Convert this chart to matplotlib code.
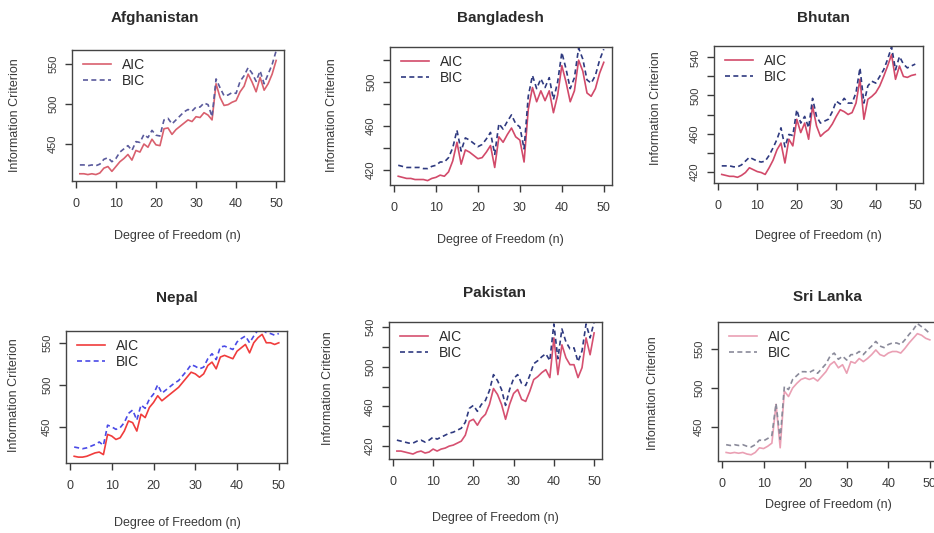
import matplotlib
matplotlib.use("Agg")
import matplotlib.pyplot as plt
import numpy as np

plt.rcParams['font.family'] = ['Liberation Sans', 'DejaVu Sans']

W, H = 934, 533

# degree of freedom n = 1..50
dof = list(range(1, 51))

afg_aic = [413, 413, 412, 413, 412, 414, 420, 422, 416, 422, 428, 432, 437, 430, 442, 440, 450, 446, 456, 449,
           448, 469, 470, 462, 468, 472, 476, 480, 478, 484, 483, 489, 486, 480, 525, 508, 498, 499, 502, 504,
           515, 522, 537, 527, 515, 533, 517, 525, 537, 554]
afg_bic = [424, 424, 423, 424, 423, 425, 431, 433, 428, 432, 440, 444, 448, 442, 453, 452, 462, 458, 467, 461,
           460, 480, 482, 475, 480, 485, 490, 493, 491, 496, 496, 501, 499, 484, 531, 520, 510, 511, 514, 513,
           528, 535, 545, 538, 528, 541, 525, 537, 549, 566]

ban_aic = [414, 413, 412, 412, 411, 411, 411, 410, 412, 413, 415, 414, 418, 428, 445, 425, 438, 436, 433, 430,
           431, 436, 442, 422, 450, 445, 452, 458, 450, 447, 427, 475, 495, 482, 492, 483, 492, 472, 488, 515,
           500, 482, 492, 520, 510, 490, 487, 494, 508, 518]
ban_bic = [424, 423, 422, 422, 422, 422, 421, 421, 423, 424, 427, 427, 431, 440, 456, 437, 449, 447, 444, 441,
           443, 448, 454, 434, 462, 457, 464, 470, 462, 459, 439, 487, 506, 494, 503, 495, 504, 484, 500, 527,
           512, 494, 504, 531, 521, 502, 499, 506, 520, 530]

bhu_aic = [417, 416, 415, 415, 414, 416, 419, 424, 422, 420, 419, 417, 424, 432, 443, 450, 429, 454, 447, 475,
           461, 471, 454, 489, 468, 457, 461, 464, 470, 478, 485, 483, 480, 482, 492, 517, 475, 496, 499, 503,
           510, 520, 531, 543, 517, 531, 520, 519, 521, 522]
bhu_bic = [426, 426, 426, 425, 425, 427, 431, 435, 433, 431, 430, 431, 437, 445, 454, 466, 446, 459, 458, 485,
           471, 478, 466, 497, 478, 471, 473, 475, 483, 494, 491, 497, 492, 492, 503, 529, 492, 510, 515, 513,
           520, 527, 538, 551, 527, 541, 533, 529, 531, 533]

nep_aic = [415, 414, 414, 415, 417, 419, 420, 417, 441, 439, 435, 437, 445, 457, 455, 445, 465, 461, 473, 479,
           487, 481, 485, 489, 493, 497, 503, 509, 515, 513, 509, 513, 523, 527, 519, 533, 535, 533, 531, 540,
           544, 548, 538, 550, 556, 560, 550, 550, 548, 550]
nep_bic = [426, 425, 424, 425, 427, 429, 432, 428, 452, 450, 447, 449, 455, 466, 470, 458, 476, 472, 483, 489,
           500, 490, 494, 498, 502, 505, 511, 517, 524, 522, 519, 521, 531, 537, 530, 545, 546, 544, 542, 551,
           555, 558, 550, 558, 565, 566, 562, 561, 559, 561]

pak_aic = [415, 415, 414, 413, 412, 414, 415, 413, 414, 417, 415, 417, 418, 420, 421, 423, 425, 431, 445, 447,
           441, 448, 452, 462, 478, 472, 462, 447, 462, 473, 477, 467, 465, 475, 487, 490, 494, 497, 489, 529,
           492, 522, 509, 502, 502, 489, 499, 529, 512, 534]
pak_bic = [426, 425, 424, 423, 423, 425, 426, 424, 426, 429, 427, 429, 431, 433, 434, 436, 438, 444, 458, 461,
           455, 462, 466, 476, 492, 486, 477, 461, 477, 488, 492, 483, 481, 491, 503, 506, 510, 513, 506, 543,
           508, 538, 525, 518, 519, 505, 516, 543, 529, 545]

sri_aic = [417, 416, 417, 416, 417, 415, 414, 417, 423, 422, 425, 429, 479, 423, 496, 489, 500, 506, 511, 513,
           511, 513, 509, 515, 521, 530, 534, 526, 530, 519, 534, 532, 538, 534, 538, 543, 549, 543, 541, 545,
           547, 547, 545, 551, 558, 564, 570, 568, 564, 562]
sri_bic = [427, 426, 427, 426, 427, 425, 424, 427, 433, 432, 435, 439, 480, 434, 502, 498, 511, 516, 521, 521,
           520, 523, 519, 525, 531, 541, 545, 537, 541, 536, 543, 543, 547, 543, 549, 554, 560, 554, 552, 556,
           558, 558, 556, 562, 569, 575, 583, 579, 575, 570]

countries = ["Afghanistan", "Bangladesh", "Bhutan", "Nepal", "Pakistan", "Sri Lanka"]
aic_series = [afg_aic, ban_aic, bhu_aic, nep_aic, pak_aic, sri_aic]
bic_series = [afg_bic, ban_bic, bhu_bic, nep_bic, pak_bic, sri_bic]

# y ticks and which ones get a label
yticks = [[450, 500, 550], list(range(420, 521, 20)), list(range(420, 541, 20)),
          [450, 500, 550], list(range(420, 541, 20)), [450, 500, 550]]
ylabeled = [[450, 500, 550], [420, 460, 500], [420, 460, 500, 540],
            [450, 500, 550], [420, 460, 500, 540], [450, 500, 550]]
ylims = [(404, 567), (406, 532), (408, 552), (407, 564), (407, 545), (406, 585)]

# plot boxes in pixels: left, top, right, bottom
boxes = [(72, 50, 284, 181), (390, 47, 612, 185), (714, 46, 923, 183),
         (66, 331, 287, 463), (389, 322, 602, 459), (718, 322, 938, 461)]
title_pos = [(155, 18), (500, 18), (823, 18), (177, 298), (495, 293), (827, 297)]
xlab_pos = [(177, 236), (500, 240), (818, 236), (177, 523), (495, 518), (828, 505)]
ylab_pos = [(15, 115), (332, 115), (656, 108), (14, 395), (328, 388), (653, 393)]
colors = [("#d9606e", "#5a5a9c"), ("#d24a6a", "#2f3a80"), ("#d24a6a", "#2f3a80"),
          ("#f03c3c", "#4a4ae6"), ("#d65070", "#2f3a80"), ("#eaa0b4", "#8a8a9a")]

txt = "#2a2a2a"


def fx(x):
    return x / W


def fy(y):
    return 1 - y / H


fig = plt.figure(figsize=(W / 100, H / 100), dpi=100)

for i, name in enumerate(countries):
    l, t, r, b = boxes[i]
    ax = fig.add_axes([fx(l), fy(b), (r - l) / W, (b - t) / H])
    c_aic, c_bic = colors[i]
    ax.plot(dof, aic_series[i], color=c_aic, lw=1.2, label="AIC")
    ax.plot(dof, bic_series[i], color=c_bic, lw=1.2, ls=(0, (3, 2)), label="BIC")
    ax.set_xlim(-0.96, 51.96)
    ax.set_ylim(*ylims[i])
    ax.set_xticks([0, 10, 20, 30, 40, 50])
    ax.set_yticks(yticks[i], [str(v) if v in ylabeled[i] else "" for v in yticks[i]])
    ax.tick_params(axis='x', length=5, width=1, pad=7, labelsize=9, colors="#3a3a3a")
    ax.tick_params(axis='y', length=5, width=1, pad=5, labelsize=8, colors="#3a3a3a")
    for lbl in ax.get_yticklabels():
        lbl.set_rotation(90)
        lbl.set_va('center')
    for sp in ax.spines.values():
        sp.set_color("#444444")
        sp.set_linewidth(1.0)
    ax.legend(loc='upper left', frameon=False, fontsize=10,
              bbox_to_anchor=(11 / (r - l), 1 - 8 / (b - t)), borderaxespad=0, borderpad=0,
              handlelength=2.0, handletextpad=0.8, labelspacing=0.15, labelcolor=txt)

    fig.text(fx(title_pos[i][0]), fy(title_pos[i][1]), name, ha='center', va='center',
             fontsize=11, fontweight='bold', color=txt)
    fig.text(fx(xlab_pos[i][0]), fy(xlab_pos[i][1]), "Degree of Freedom (n)", ha='center',
             va='center', fontsize=9, color="#3a3a3a")
    fig.text(fx(ylab_pos[i][0]), fy(ylab_pos[i][1]), "Information Criterion", ha='center',
             va='center', rotation=90, fontsize=9, color="#3a3a3a")

fig.savefig("out.png", dpi=100)
